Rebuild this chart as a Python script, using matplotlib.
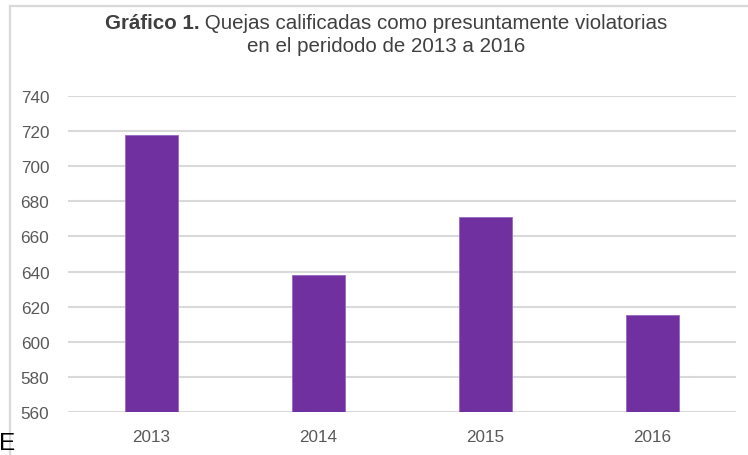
import matplotlib.pyplot as plt
from matplotlib.lines import Line2D

years = ["2013", "2014", "2015", "2016"]
quejas = [718, 638, 671, 615]
y_ticks = [560, 580, 600, 620, 640, 660, 680, 700, 720, 740]

plt.rcParams['font.family'] = ['Liberation Sans', 'DejaVu Sans']

W, H = 748, 456
fig = plt.figure(figsize=(W / 100, H / 100), dpi=100)
ax = fig.add_axes([68 / W, 43 / H, (736 - 68) / W, (413 - 97) / H])

# bars
x = range(len(years))
ax.bar(x, quejas, width=0.32, color='#7030A0', edgecolor='#9966C0', linewidth=0.6, zorder=3)

# axes format
ax.set_xlim(-0.5, len(years) - 0.5)
ax.set_ylim(560, 740)
ax.set_yticks(y_ticks)
ax.set_xticks(list(x))
ax.set_xticklabels(years)
ax.tick_params(axis='both', length=0, labelsize=12.3, labelcolor='#595959')
ax.tick_params(axis='y', pad=13.5)
ax.tick_params(axis='x', pad=12)
ax.grid(axis='y', color='#d9d9d9', linewidth=1.5, zorder=0)
for s in ax.spines.values():
    s.set_visible(False)

# chart border (top and left visible)
fig.add_artist(Line2D([10 / W, 10 / W], [0, 1 - 7 / H], color='#d9d9d9', linewidth=1.6))
fig.add_artist(Line2D([10 / W, 1], [1 - 7 / H, 1 - 7 / H], color='#d9d9d9', linewidth=1.6))

# title: bold part + normal part on first line
cx = 386 / W
tsize = 14.8
t1b = fig.text(0, 1 - 29 / H, "Gráfico 1.", fontsize=tsize, fontweight='bold', color='#404040', va='baseline')
t1n = fig.text(0, 1 - 29 / H, " Quejas calificadas como presuntamente violatorias", fontsize=tsize,
               color='#404040', va='baseline')
fig.canvas.draw()
r = fig.canvas.get_renderer()
wb = t1b.get_window_extent(r).width / W
wn = t1n.get_window_extent(r).width / W
x0 = cx - (wb + wn) / 2
t1b.set_x(x0)
t1n.set_x(x0 + wb)
fig.text(cx, 1 - 52 / H, "en el peridodo de 2013 a 2016", fontsize=tsize, color='#404040',
         ha='center', va='baseline')

# stray letter at the bottom-left corner
fig.text(-1 / W, 1 / H, "E", fontsize=17.5, color='black', ha='left', va='bottom')

fig.savefig("out.png", dpi=100)
